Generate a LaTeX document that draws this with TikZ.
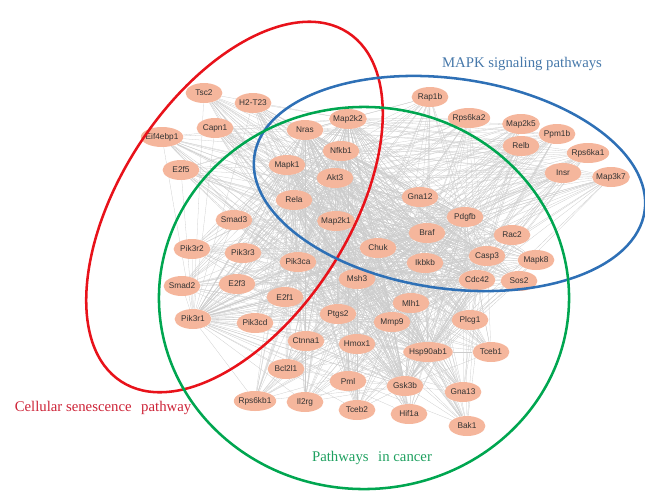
\documentclass[tikz,border=0pt]{standalone}
\usepackage{fontspec}
\setmainfont{Liberation Serif}
\newfontfamily\genefont{Liberation Sans}
\usepackage{tikz}
\usetikzlibrary{positioning, shapes, shapes.geometric}
\pgfdeclarelayer{background}
\pgfsetlayers{background,main}
\definecolor{genefill}{RGB}{245,182,156}
\definecolor{senred}{RGB}{232,18,26}
\definecolor{mapkblue}{RGB}{46,112,182}
\definecolor{cancergreen}{RGB}{0,166,80}
\definecolor{senredtext}{RGB}{205,35,55}
\definecolor{mapkbluetext}{RGB}{70,120,170}
\definecolor{cancergreentext}{RGB}{30,160,95}
\tikzset{gene/.style={ellipse, fill=genefill, draw=none, inner xsep=-1pt, inner ysep=0.5pt, minimum width=0.92cm, minimum height=0.5cm, text=black!80, font=\genefont\fontsize{5.9}{6}\selectfont}}
\tikzset{link/.style={draw=black!20, line width=0.2pt}}
\tikzset{pathway/.style={line width=1.8pt}}
\tikzset{pathlabel/.style={font=\fontsize{10.5}{12}\selectfont, inner sep=0pt}}
\newcommand{\genes}{Tsc2/204/93, H2-T23/253/103, Capn1/215/128, Eif4ebp1/162/137, E2f5/181/170,
  Nras/305/130, Map2k2/348/119, Nfkb1/341/151, Akt3/335/178, Mapk1/287/165, Rela/294/200,
  Map2k1/336/221, Rap1b/430/97, Rps6ka2/469/118, Map2k5/521/124, Ppm1b/557/134, Relb/521/146,
  Rps6ka1/588/153, Insr/563/173, Map3k7/611/177, Gna12/420/197, Pdgfb/465/217, Braf/427/233,
  Rac2/512/235, Chuk/378/248, Ikbkb/425/263, Casp3/487/256, Mapk8/536/260, Cdc42/477/280,
  Sos2/519/281, Msh3/357/279, Smad3/234/220, Pik3r2/192/249, Pik3r3/243/253, Pik3ca/298/262,
  Smad2/182/286, E2f3/237/284, E2f1/285/297, Pik3r1/193/319, Pik3cd/255/323, Ptgs2/338/314,
  Mlh1/411/303, Mmp9/392/322, Plcg1/470/320, Ctnna1/306/341, Hmox1/357/344, Hsp90ab1/428/352,
  Tceb1/491/352, Bcl2l1/286/369, Pml/348/381, Gsk3b/405/386, Gna13/463/392, Rps6kb1/255/401,
  Il2rg/305/402, Tceb2/357/410, Hif1a/409/414, Bak1/467/426}

\begin{document}
\begin{tikzpicture}[x=0.025cm, y=-0.025cm]
	\useasboundingbox (0,0) rectangle (645,496);
	% genes
	\foreach \n/\x/\y in \genes {\node[gene] (\n) at (\x,\y) {\n};}
	% interactions
	\begin{pgfonlayer}{background}
		\foreach \h in {Akt3, Mapk1, Map2k1, Pik3ca, Braf, Ikbkb, Rela, Nfkb1, Chuk, Gsk3b, Hsp90ab1, Casp3, Map2k2, Nras, Pik3r1, Cdc42, Ptgs2, Mmp9, Msh3, Pdgfb}
			\foreach \n/\x/\y in \genes {\draw[link] (\h) -- (\n);}
	\end{pgfonlayer}
	% pathways
	\coordinate (sen) at (234.5,207);
	\coordinate (mapk) at (449.5,183.5);
	\coordinate (cancer) at (364,298);
	\draw[pathway, senred, rotate around={57:(sen)}] (sen) ellipse [x radius=5.2cm, y radius=2.85cm];
	\draw[pathway, mapkblue, rotate around={-8:(mapk)}] (mapk) ellipse [x radius=4.925cm, y radius=2.625cm];
	\draw[pathway, cancergreen] (cancer) ellipse [x radius=5.125cm, y radius=4.775cm];
	\node[pathlabel, text=mapkbluetext] (mapklabel) at (522,64) {MAPK signaling pathways};
	\node[pathlabel, text=senredtext] (senlabel) at (103,408) {Cellular senescence\hspace{0.4em} pathway};
	\node[pathlabel, text=cancergreentext] (cancerlabel) at (372,458) {Pathways\hspace{0.4em} in cancer};
\end{tikzpicture}
\end{document}
